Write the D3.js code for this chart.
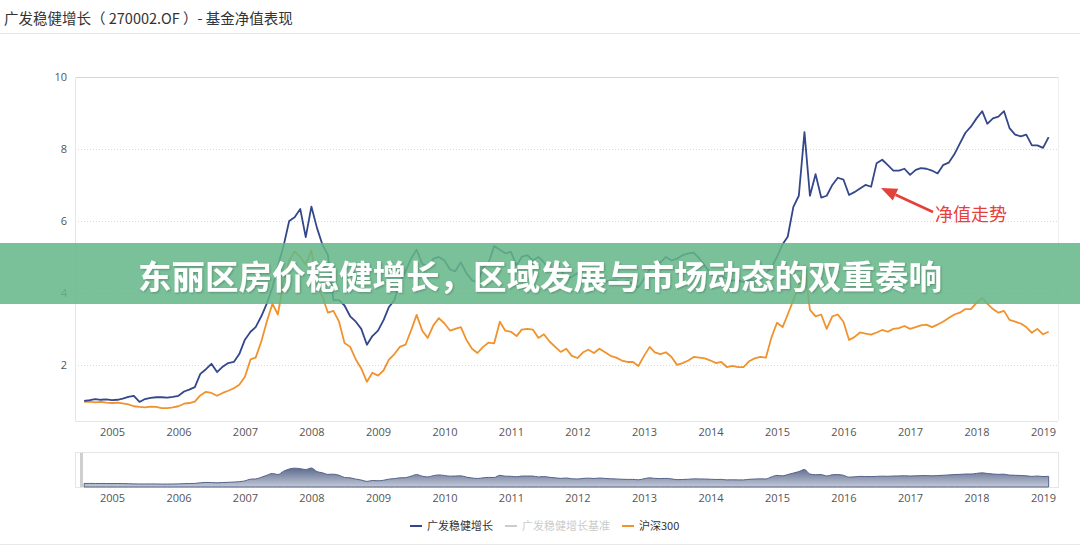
<!DOCTYPE html>
<html><head><meta charset="utf-8">
<script src="https://cdn.jsdelivr.net/npm/d3@7/dist/d3.min.js"></script>
<style>
html,body{margin:0;padding:0;background:#fff;}
svg{display:block;font-family:"Open Sans","Noto Sans CJK SC",sans-serif;}
</style></head><body>
<svg id="c" width="1080" height="549"></svg>
<script>
// ---- data ----
const titleText = "广发稳健增长（ 270002.OF ）- 基金净值表现";
const bannerText = "东丽区房价稳健增长，区域发展与市场动态的双重奏响";
const annotationText = "净值走势";
const seriesNames = ["广发稳健增长", "广发稳健增长基准", "沪深300"];
const startMonth = "2004-08-01";   // first monthly observation
const endMonth = "2019-03-01";     // exclusive
const yTicks = [2, 4, 6, 8, 10];
const xTickYears = [2005,2006,2007,2008,2009,2010,2011,2012,2013,2014,2015,2016,2017,2018,2019];
const fundValues = [1.00,1.02,1.05,1.03,1.04,
 1.02,1.03,1.06,1.11,1.14,0.97,1.05,1.08,1.10,1.10,1.09,1.11,
 1.14,1.26,1.31,1.38,1.75,1.88,2.03,1.80,1.95,2.05,2.08,2.30,
 2.70,2.92,3.05,3.35,3.70,4.15,4.75,5.30,6.00,6.10,6.33,5.55,
 6.40,5.80,5.35,5.05,3.80,3.80,3.65,3.35,3.20,3.00,2.56,2.80,
 2.95,3.25,3.60,3.80,4.30,4.60,4.95,5.20,4.80,4.75,4.95,5.00,
 4.90,4.65,4.60,4.85,4.55,4.35,4.30,4.70,4.85,5.30,5.20,5.10,
 5.14,4.75,5.00,5.05,4.90,5.00,4.85,4.60,4.60,4.65,4.40,4.45,
 4.55,4.45,4.35,4.20,4.30,4.30,4.35,4.35,4.25,4.35,4.25,4.15,
 4.40,4.65,4.75,4.85,5.00,4.90,4.95,5.05,5.10,5.12,4.95,4.75,
 4.55,4.38,4.45,4.40,4.35,4.35,4.30,4.35,4.36,4.40,4.55,4.70,
 5.00,5.35,5.56,6.39,6.70,8.47,6.70,7.30,6.65,6.70,7.00,7.20,
 7.15,6.72,6.80,6.90,7.00,6.95,7.60,7.70,7.55,7.40,7.40,7.45,
 7.28,7.42,7.47,7.45,7.40,7.32,7.55,7.62,7.85,8.15,8.45,8.62,
 8.85,9.05,8.70,8.85,8.90,9.05,8.58,8.40,8.35,8.40,8.10,8.10,
 8.03,8.33];
const hs300Values = [0.97,0.98,0.96,0.97,0.95,
 0.94,0.95,0.93,0.90,0.85,0.83,0.82,0.84,0.83,0.80,0.80,0.82,
 0.85,0.92,0.94,0.98,1.15,1.25,1.22,1.14,1.22,1.28,1.35,1.45,
 1.67,2.15,2.20,2.65,3.20,3.70,3.40,4.30,4.90,5.15,5.00,4.78,
 5.19,4.20,3.90,3.45,3.50,3.20,2.61,2.50,2.15,1.90,1.53,1.78,
 1.70,1.85,2.14,2.30,2.50,2.56,2.95,3.39,2.95,2.75,3.10,3.30,
 3.15,2.95,3.00,3.05,2.70,2.45,2.33,2.50,2.62,2.60,3.20,2.95,
 2.92,2.80,2.98,3.00,2.98,2.75,2.85,2.65,2.50,2.36,2.45,2.25,
 2.19,2.35,2.42,2.33,2.45,2.35,2.25,2.20,2.12,2.08,2.08,1.97,
 2.25,2.50,2.35,2.30,2.35,2.22,2.00,2.05,2.12,2.22,2.20,2.18,
 2.12,2.05,2.08,1.94,1.97,1.94,1.94,2.10,2.18,2.22,2.20,2.75,
 3.17,3.05,3.40,3.80,4.20,4.78,3.53,3.35,3.40,3.00,3.35,3.40,
 3.20,2.69,2.77,2.90,2.87,2.84,2.90,2.97,2.92,3.00,3.02,3.08,
 3.00,3.05,3.10,3.12,3.05,3.12,3.20,3.30,3.40,3.45,3.55,3.55,
 3.72,3.86,3.70,3.55,3.45,3.50,3.25,3.20,3.15,3.05,2.89,3.00,
 2.85,2.92];
const colors = {fund:"#34478a", bench:"#cccccc", hs:"#f0922e", red:"#e5413b"};

// ---- build ----
const months = d3.timeMonth.range(new Date(startMonth+"T00:00:00"), new Date(endMonth+"T00:00:00"));
const fundData = months.map((d,i)=>({d, v:fundValues[i]}));
const hsData = months.map((d,i)=>({d, v:hs300Values[i]}));

const svg = d3.select("#c");
const W = 1080, H = 549;
const plot = {l:75, r:1058, t:77, b:421};

// title
svg.append("text").attr("x",4).attr("y",24).attr("font-size",14.5).attr("fill","#333")
  .attr("font-family","'Noto Sans CJK SC',sans-serif").text(titleText);
svg.append("line").attr("x1",0).attr("x2",W).attr("y1",33.5).attr("y2",33.5).attr("stroke","#e6e6e6");

const x = d3.scaleTime().domain([new Date(2005,0,1), new Date(2019,0,1)]).range([112,1043]);
const y = d3.scaleLinear().domain([0.44,10]).range([plot.b, plot.t]);

// grid
const g = svg.append("g");
g.selectAll(".grid").data(yTicks).join("line")
  .attr("x1",plot.l).attr("x2",plot.r).attr("y1",d=>Math.round(y(d))+0.5).attr("y2",d=>Math.round(y(d))+0.5)
  .attr("stroke","#d8d8d8").attr("stroke-dasharray",d=>d===10?null:"1,2");
g.append("line").attr("x1",plot.l+0.5).attr("x2",plot.l+0.5).attr("y1",plot.t).attr("y2",plot.b).attr("stroke","#e6e6e6");
g.append("line").attr("x1",plot.r+0.5).attr("x2",plot.r+0.5).attr("y1",plot.t).attr("y2",plot.b).attr("stroke","#eeeeee");
g.append("line").attr("x1",plot.l).attr("x2",plot.r).attr("y1",plot.b+0.5).attr("y2",plot.b+0.5).attr("stroke","#e6e6e6");

// y axis labels
const yAxis = d3.axisLeft(y).tickValues(yTicks).tickSize(0).tickPadding(8);
const ya = svg.append("g").attr("transform",`translate(${plot.l},0)`).call(yAxis);
ya.select(".domain").remove();
ya.selectAll("text").attr("font-size",11).attr("fill","#555").attr("font-family","'Open Sans',sans-serif");

// x axis labels
const xAxis = d3.axisBottom(x).tickValues(xTickYears.map(yr=>new Date(yr,0,1))).tickFormat(d3.timeFormat("%Y")).tickSize(0).tickPadding(7);
const xa = svg.append("g").attr("transform",`translate(0,${plot.b})`).call(xAxis);
xa.select(".domain").remove();
xa.selectAll("text").attr("font-size",11).attr("fill","#555").attr("font-family","'Open Sans',sans-serif");

// lines
const line = d3.line().x(d=>x(d.d)).y(d=>y(d.v));
svg.append("path").datum(hsData).attr("d",line).attr("fill","none").attr("stroke",colors.hs).attr("stroke-width",1.8).attr("stroke-linejoin","round");
svg.append("path").datum(fundData).attr("d",line).attr("fill","none").attr("stroke",colors.fund).attr("stroke-width",1.8).attr("stroke-linejoin","round");

// annotation arrow
const defs = svg.append("defs");
const ax1 = 933, ay1 = 212, ax2 = 881, ay2 = 188;
const ang = Math.atan2(ay2-ay1, ax2-ax1);
const hl = 16, hw = 6.5;
const bx = ax2 - hl*Math.cos(ang), by = ay2 - hl*Math.sin(ang);
svg.append("line").attr("x1",ax1).attr("y1",ay1).attr("x2",bx).attr("y2",by).attr("stroke",colors.red).attr("stroke-width",2.6);
svg.append("path").attr("d",`M${ax2},${ay2} L${bx - hw*Math.sin(ang)},${by + hw*Math.cos(ang)} L${bx + hw*Math.sin(ang)},${by - hw*Math.cos(ang)} Z`).attr("fill",colors.red);
svg.append("text").attr("x",935).attr("y",221).attr("font-size",18).attr("fill",colors.red)
  .attr("font-family","'Noto Sans CJK SC',sans-serif").text(annotationText);

// navigator
const nav = {l:75, r:1058, t:452, b:487};
const grad = defs.append("linearGradient").attr("id","ng").attr("x1",0).attr("x2",0).attr("y1",0).attr("y2",1);
grad.append("stop").attr("offset","0%").attr("stop-color","#5d6b90");
grad.append("stop").attr("offset","100%").attr("stop-color","#c3c9d6");
svg.append("rect").attr("x",nav.l+0.5).attr("y",nav.t+0.5).attr("width",nav.r-nav.l).attr("height",nav.b-nav.t).attr("fill","#fff").attr("stroke","#e6e6e6");
const ny = d3.scaleLinear().domain([0, d3.max(hs300Values)]).range([nav.b, 468]);
const area = d3.area().x(d=>x(d.d)).y0(nav.b).y1(d=>ny(d.v)).curve(d3.curveMonotoneX);
svg.append("path").datum(hsData).attr("d",area).attr("fill","url(#ng)").attr("stroke","#55638a").attr("stroke-width",1);
svg.append("rect").attr("x",80).attr("y",nav.t+1).attr("width",3).attr("height",nav.b-nav.t-1).attr("fill","#cfcfcf");
const xa2 = svg.append("g").attr("transform",`translate(0,${nav.b})`).call(xAxis);
xa2.select(".domain").remove();
xa2.selectAll("text").attr("font-size",11).attr("fill","#555").attr("font-family","'Open Sans',sans-serif");

// legend
const leg = svg.append("g").attr("font-size",11).attr("font-family","'Noto Sans CJK SC',sans-serif");
const legItems = [
  {name:seriesNames[0], color:colors.fund, text:"#333", x:410},
  {name:seriesNames[1], color:colors.bench, text:"#cccccc", x:505},
  {name:seriesNames[2], color:colors.hs, text:"#333", x:622}
];
legItems.forEach(it=>{
  leg.append("line").attr("x1",it.x).attr("x2",it.x+12).attr("y1",526).attr("y2",526).attr("stroke",it.color).attr("stroke-width",2);
  leg.append("text").attr("x",it.x+17).attr("y",530).attr("fill",it.text).text(it.name);
});
svg.append("line").attr("x1",0).attr("x2",W).attr("y1",544.5).attr("y2",544.5).attr("stroke","#e8e8e8");

// banner
const filt = defs.append("filter").attr("id","sh").attr("x","-5%").attr("y","-20%").attr("width","110%").attr("height","140%");
filt.append("feDropShadow").attr("dx",1).attr("dy",1).attr("stdDeviation",1).attr("flood-color","#000").attr("flood-opacity",0.25);
svg.append("rect").attr("x",0).attr("y",243).attr("width",W).attr("height",61).attr("fill","rgba(100,183,136,0.86)");
svg.append("text").attr("x",540).attr("y",274).attr("text-anchor","middle").attr("dominant-baseline","central")
  .attr("font-size",33.5).attr("font-weight",700).attr("fill","#fff").attr("filter","url(#sh)")
  .attr("font-family","'Noto Sans CJK SC',sans-serif").text(bannerText);
</script>
</body></html>
